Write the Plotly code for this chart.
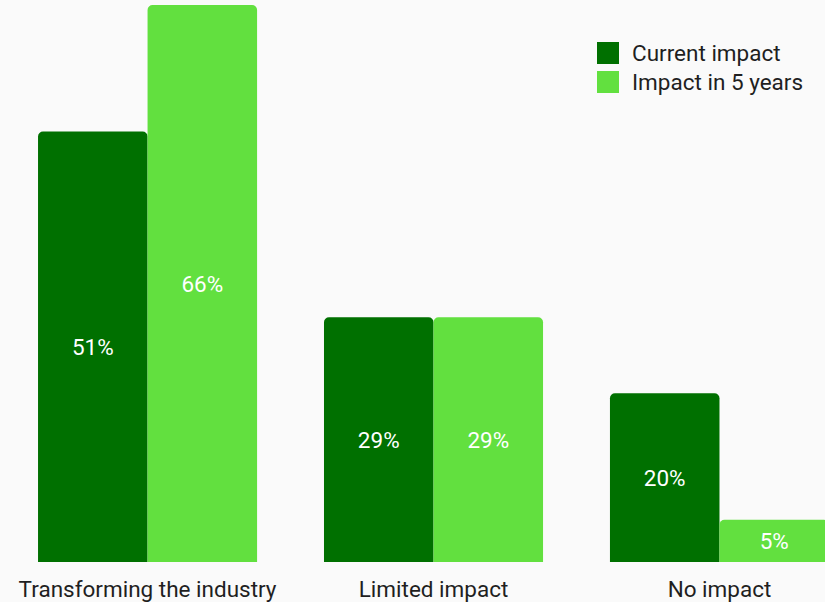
import plotly.graph_objects as go

categories = ["Transforming the industry", "Limited impact", "No impact"]
series_names = ["Current impact", "Impact in 5 years"]
current_values = [51, 29, 20]
future_values = [66, 29, 5]
colors = ["#007000", "#62e03f"]

W, H = 825, 602
ML, MR, MT, MB = 0, 0, 5, 40
FONT = "Roboto"
TEXT = "#1f1f1f"

fig = go.Figure()
for name, vals, col in zip(series_names, [current_values, future_values], colors):
    fig.add_trace(go.Bar(
        x=categories, y=vals, name=name, marker_color=col,
        marker_line_width=0,
        text=[f"{v}%" for v in vals], textposition="inside",
        insidetextanchor="middle", textangle=0,
        textfont=dict(color="white", size=22.5, family=FONT),
        showlegend=False, cliponaxis=True,
    ))

# Legend swatches and labels
ph = H - MT - MB
def py(p):
    return (H - MB - p) / ph
for i, (name, col) in enumerate(zip(series_names, colors)):
    cy = 53 + 29 * i
    fig.add_shape(type="rect", xref="paper", yref="paper",
                  x0=597 / W, x1=619 / W, y0=py(cy + 11), y1=py(cy - 11),
                  fillcolor=col, line_width=0)
    fig.add_annotation(xref="paper", yref="paper", x=630 / W, y=py(cy),
                       text=name, showarrow=False, xanchor="left", yanchor="middle",
                       font=dict(size=22.5, family=FONT, color=TEXT))

fig.update_layout(
    width=W, height=H,
    margin=dict(l=ML, r=MR, t=MT, b=MB),
    paper_bgcolor="#fafafa", plot_bgcolor="#fafafa",
    barmode="group", bargap=0.234, bargroupgap=0.0,
    barcornerradius=5,
    showlegend=False,
    font=dict(family=FONT, color=TEXT),
    xaxis=dict(range=[-0.516, 2.369], showgrid=False, zeroline=False,
               showline=False, ticks="", tickfont=dict(size=22.5, color=TEXT, family=FONT),
               ticklabelstandoff=11),
    yaxis=dict(range=[0, 66], visible=False, showgrid=False, zeroline=False),
)

fig.write_html("out.html")
